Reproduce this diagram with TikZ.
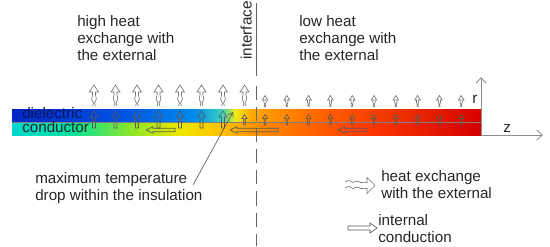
\documentclass[tikz,border=0pt]{standalone}
\usepackage{fontspec}
\setmainfont{Liberation Sans}
\usetikzlibrary{arrows.meta}

% colours of the temperature bar
\definecolor{dA}{RGB}{0,40,195}
\definecolor{dB}{RGB}{0,80,225}
\definecolor{dC}{RGB}{0,140,235}
\definecolor{dD}{RGB}{60,210,190}
\definecolor{dE}{RGB}{240,235,20}
\definecolor{dF}{RGB}{255,170,0}
\definecolor{dG}{RGB}{255,90,0}
\definecolor{dH}{RGB}{215,0,0}
\definecolor{cA}{RGB}{0,215,205}
\definecolor{cB}{RGB}{0,225,160}
\definecolor{cC}{RGB}{140,230,40}
\definecolor{cD}{RGB}{240,230,0}
\definecolor{cE}{RGB}{255,190,0}
\definecolor{cF}{RGB}{255,140,0}
\definecolor{cG}{RGB}{255,60,0}
\definecolor{cH}{RGB}{210,0,0}
\definecolor{dieltext}{RGB}{10,20,90}

\pgfdeclarehorizontalshading{dielshade}{100bp}{color(0bp)=(dA); color(25bp)=(dA);
  color(36.5bp)=(dB); color(44.5bp)=(dC); color(47.4bp)=(dD); color(48.8bp)=(dE);
  color(50.4bp)=(dF); color(58.9bp)=(dG); color(75bp)=(dH); color(100bp)=(dH)}
\pgfdeclarehorizontalshading{condshade}{100bp}{color(0bp)=(cA); color(25bp)=(cA);
  color(31.2bp)=(cB); color(37.6bp)=(cC); color(42.9bp)=(cD); color(47.7bp)=(cE);
  color(51.4bp)=(cF); color(62.1bp)=(cG); color(75bp)=(cH); color(100bp)=(cH)}

\begin{document}
\begin{tikzpicture}[x=0.025cm,y=-0.025cm,>={Straight Barb[length=4pt,width=7pt]},
    font=\fontsize{10.8}{12.1}\selectfont,
    txt/.style={align=left,anchor=base west,inner sep=0pt,text=black!85},
    block/.style={align=left,anchor=north west,inner sep=0pt,text=black!85},
    heatarrow/.style={draw=black!55,line width=0.45pt},
    condarrow/.style={draw=black!65,line width=0.45pt},
    axis/.style={draw=black!45,line width=0.6pt,->}]
    \useasboundingbox (0,0) rectangle (550,246);
    % bar: dielectric over conductor
    \shade[shading=dielshade] (12,109) rectangle (481,122);
    \shade[shading=condshade] (12,122) rectangle (481,135);
    \draw[black!50,line width=0.3pt] (12,122) -- (481,122);
    % interface
    \node[txt,rotate=90] (iface) at (251.5,60) {interface};
    \draw[black!60,line width=0.5pt] (256,3) -- (256,76);
    \draw[black!60,line width=0.5pt,dash pattern=on 10pt off 5pt] (256,86) -- (256,246);
    % heat exchange with the external
    \foreach \x in {94,115.5,137,158.5,180,201.5,223,244.5}
        \draw[heatarrow] plot[smooth,tension=0.7] coordinates {(\x-1.5,106) (\x-0.6,103) (\x-2.4,99) (\x-1.5,95) (\x-1.5,92)}
            -- (\x-4.5,92) -- (\x,85) -- (\x+4.5,92) -- (\x+1.5,92)
            -- plot[smooth,tension=0.7] coordinates {(\x+1.5,92) (\x+1.5,95) (\x+2.4,99) (\x+0.6,103) (\x+1.5,106)};
    \foreach \x in {265,286.8,308.6,330.4,352.2,374,395.8,417.6,439.4,461.2}
        \draw[heatarrow] plot[smooth,tension=0.7] coordinates {(\x-0.8,107) (\x-0.3,104.5) (\x-1.2,102) (\x-0.8,100)}
            -- (\x-2.8,100) -- (\x,95.5) -- (\x+2.8,100) -- (\x+0.8,100)
            -- plot[smooth,tension=0.7] coordinates {(\x+0.8,100) (\x+1.2,102) (\x+0.3,104.5) (\x+0.8,107)};
    % internal conduction
    \foreach \x in {94,115.5,137,158.5,180,201.5,223}
        \draw[condarrow] (\x-1.5,128) -- (\x-1.5,117) -- (\x-4,117) -- (\x,111) -- (\x+4,117) -- (\x+1.5,117) -- (\x+1.5,128) -- cycle;
    \foreach \x in {244.5,265,286.8,308.6,330.4,352.2,374,395.8,417.6,439.4,461.2}
        \draw[condarrow] (\x-0.8,125) -- (\x-0.8,118.5) -- (\x-2.5,118.5) -- (\x,114.5) -- (\x+2.5,118.5) -- (\x+0.8,118.5) -- (\x+0.8,125) -- cycle;
    \foreach \a/\b in {146/175,230/278,338/367}
        \draw[condarrow] (\a,130) -- (\a+7,126.7) -- (\a+7,128.3) -- (\b,128.3) -- (\b,131.7) -- (\a+7,131.7) -- (\a+7,133.3) -- cycle;
    % axes
    \coordinate (origin) at (481,135);
    \coordinate (rtip) at (481,77);
    \coordinate (ztip) at (543,135);
    \draw[axis] (origin) -- (rtip);
    \draw[axis] (origin) -- (ztip);
    \node[txt] (rlabel) at (472,103) {r};
    \node[txt] (zlabel) at (503,132) {z};
    % labels
    \node[txt,text=dieltext] (diel) at (22,118) {dielectric};
    \node[txt] (cond) at (22,132) {conductor};
    \node[block] (high) at (77,15) {high heat\\exchange with\\the external};
    \node[block] (low) at (299,15) {low heat\\exchange with\\the external};
    \node[block] (maxdrop) at (35,172) {maximum temperature\\drop within the insulation};
    \coordinate (droptail) at (193,185);
    \coordinate (drophead) at (233,112);
    \draw[black!70,line width=0.4pt,-{Straight Barb[length=3pt,width=4pt]}] (droptail) -- (drophead);
    % legend
    \draw[heatarrow] plot[smooth,tension=0.7] coordinates {(345,182) (349,180.5) (353,182.5) (357,181) (361,182.5) (367,182.5)}
        -- (367,177.5) -- (375,185.5) -- (367,193.5) -- (367,188.5)
        -- plot[smooth,tension=0.7] coordinates {(367,188.5) (361,188.5) (357,187) (353,188.5) (349,186.5) (345,188)};
    \node[block] (legheat) at (381,170) {heat exchange\\with the external};
    \draw[condarrow] (348,226) -- (370,226) -- (370,223) -- (377,228) -- (370,233) -- (370,230) -- (348,230) -- cycle;
    \node[block] (legcond) at (378,214) {internal\\conduction};
\end{tikzpicture}
\end{document}
